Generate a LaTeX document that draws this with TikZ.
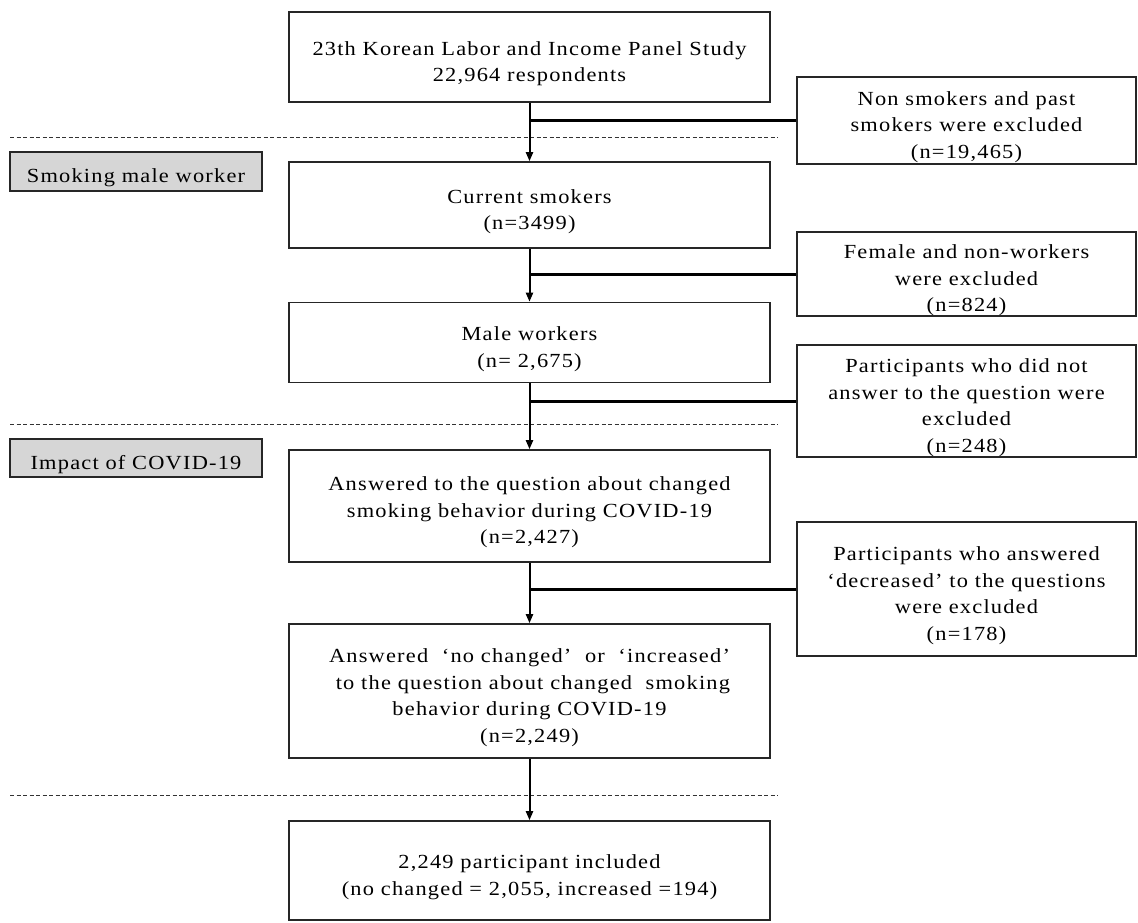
\documentclass[tikz,border=0pt]{standalone}
\usepackage{fontspec}
\setmainfont{Liberation Serif}[FakeStretch=1.12, LetterSpace=6]
\usetikzlibrary{arrows.meta}
\newcommand{\tstrut}{\rule{0pt}{27pt}}
\begin{document}
\begin{tikzpicture}[x=1pt,y=-1pt,
  txt/.style={font=\fontsize{20}{26.5}\selectfont, align=center, inner sep=0pt},
  mainbox/.style={txt, draw=black!85, line width=1.6pt, minimum width=481pt},
  exclbox/.style={txt, draw=black!85, line width=1.6pt, minimum width=339pt},
  stagebox/.style={txt, draw=black!85, fill=black!16, line width=1.6pt, minimum width=252pt},
  flow/.style={line width=2pt, -{Triangle[length=9pt,width=7pt]}},
  branch/.style={line width=3pt},
  sep/.style={line width=1pt, dash pattern=on 4pt off 2.5pt, black!80}]
\useasboundingbox (0,0) rectangle (1138,922);
% main flow
\node[mainbox, minimum height=90pt]  (b1) at (529.5,57) {\tstrut 23th Korean Labor and Income Panel Study\\22,964 respondents};
\node[mainbox, minimum height=86pt]  (b2) at (529.5,205) {\tstrut Current smokers\\(n=3499)};
\node[mainbox, minimum height=80pt]  (b3) at (529.5,342.5) {\tstrut Male workers\\(n= 2,675)};
\node[mainbox, minimum height=112pt] (b4) at (529.5,506) {\tstrut Answered to the question about changed\\smoking behavior during COVID-19\\(n=2,427)};
\node[mainbox, minimum height=134pt] (b5) at (529.5,691) {\tstrut Answered\ \ ‘no changed’\ \ or\ \ ‘increased’\\\ to the question about changed\ \ smoking\\behavior during COVID-19\\(n=2,249)};
\node[mainbox, minimum height=99pt]  (b6) at (529.5,870.5) {\tstrut 2,249 participant included\\(no changed = 2,055, increased =194)};
% exclusions
\node[exclbox, minimum height=87pt]  (e1) at (966.5,120.5) {\tstrut Non smokers and past\\smokers were excluded\\(n=19,465)};
\node[exclbox, minimum height=82pt]  (e2) at (966.5,274) {\tstrut Female and non-workers\\were excluded\\(n=824)};
\node[exclbox, minimum height=112pt] (e3) at (966.5,401) {\tstrut Participants who did not\\answer to the question were\\excluded\\(n=248)};
\node[exclbox, minimum height=134pt] (e4) at (966.5,589) {\tstrut Participants who answered\\‘decreased’ to the questions\\were excluded\\(n=178)};
% stage labels
\node[stagebox, minimum height=39pt] (l1) at (136,171.5) {\tstrut Smoking male worker};
\node[stagebox, minimum height=38pt] (l2) at (136,458) {\tstrut Impact of COVID-19};
% dashed separators
\coordinate (s1a) at (10,137);  \coordinate (s1b) at (778,137);
\coordinate (s2a) at (10,424);  \coordinate (s2b) at (778,424);
\coordinate (s3a) at (10,795);  \coordinate (s3b) at (778,795);
\draw[sep] (s1a) -- (s1b);
\draw[sep] (s2a) -- (s2b);
\draw[sep] (s3a) -- (s3b);
% arrows
\draw[flow] (b1.south) -- (b2.north);
\draw[flow] (b2.south) -- (b3.north);
\draw[flow] (b3.south) -- (b4.north);
\draw[flow] (b4.south) -- (b5.north);
\draw[flow] (b5.south) -- (b6.north);
% branches to exclusions
\draw[branch] (e1.west) -- (e1.west -| b1.south);
\draw[branch] (e2.west) -- (e2.west -| b2.south);
\draw[branch] (e3.west) -- (e3.west -| b3.south);
\draw[branch] (e4.west) -- (e4.west -| b4.south);
\end{tikzpicture}
\end{document}
